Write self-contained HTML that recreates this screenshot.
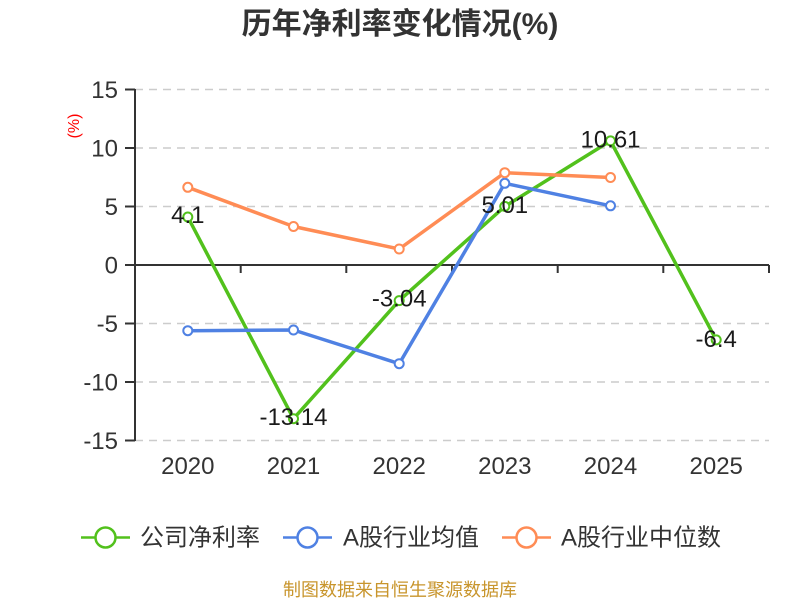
<!DOCTYPE html>
<html>
<head>
<meta charset="utf-8">
<style>
  html, body { margin: 0; padding: 0; background: #ffffff; }
  svg { display: block; }
  text { font-family: "Liberation Sans", "Noto Sans CJK SC", sans-serif; }
</style>
</head>
<body>
<svg width="800" height="600" viewBox="0 0 800 600" xmlns="http://www.w3.org/2000/svg">
  <rect width="800" height="600" fill="#ffffff"/>

  <!-- Title -->
  <text x="400" y="34" text-anchor="middle" font-size="30" font-weight="bold" fill="#333333">历年净利率变化情况(%)</text>

  <!-- Y axis unit -->
  <text transform="translate(79,126) rotate(-90)" text-anchor="middle" font-size="16" fill="#ff0000">(%)</text>

  <!-- Grid lines -->
  <g stroke="#cccccc" stroke-width="1.5" stroke-dasharray="8,6" fill="none">
    <line x1="135" y1="89.5" x2="769" y2="89.5"/>
    <line x1="135" y1="148" x2="769" y2="148"/>
    <line x1="135" y1="206.5" x2="769" y2="206.5"/>
    <line x1="135" y1="323.5" x2="769" y2="323.5"/>
    <line x1="135" y1="382" x2="769" y2="382"/>
    <line x1="135" y1="440.5" x2="769" y2="440.5"/>
  </g>

  <!-- Axes -->
  <g stroke="#333333" stroke-width="2" fill="none">
    <line x1="135" y1="89" x2="135" y2="441"/>
    <line x1="125" y1="89.5" x2="135" y2="89.5"/>
    <line x1="125" y1="148" x2="135" y2="148"/>
    <line x1="125" y1="206.5" x2="135" y2="206.5"/>
    <line x1="125" y1="265" x2="135" y2="265"/>
    <line x1="125" y1="323.5" x2="135" y2="323.5"/>
    <line x1="125" y1="382" x2="135" y2="382"/>
    <line x1="125" y1="440.5" x2="135" y2="440.5"/>
    <line x1="135" y1="265" x2="769" y2="265"/>
    <line x1="240.7" y1="265" x2="240.7" y2="273"/>
    <line x1="346.3" y1="265" x2="346.3" y2="273"/>
    <line x1="452" y1="265" x2="452" y2="273"/>
    <line x1="557.7" y1="265" x2="557.7" y2="273"/>
    <line x1="663.3" y1="265" x2="663.3" y2="273"/>
    <line x1="769" y1="265" x2="769" y2="273"/>
  </g>

  <!-- Y tick labels -->
  <g font-size="24" fill="#333333" text-anchor="end">
    <text x="118" y="98">15</text>
    <text x="118" y="156.5">10</text>
    <text x="118" y="215">5</text>
    <text x="118" y="273.5">0</text>
    <text x="118" y="332">-5</text>
    <text x="118" y="390.5">-10</text>
    <text x="118" y="449">-15</text>
  </g>

  <!-- X tick labels -->
  <g font-size="24" fill="#333333" text-anchor="middle">
    <text x="187.8" y="474">2020</text>
    <text x="293.5" y="474">2021</text>
    <text x="399.2" y="474">2022</text>
    <text x="504.8" y="474">2023</text>
    <text x="610.5" y="474">2024</text>
    <text x="716.2" y="474">2025</text>
  </g>

  <!-- Series: 公司净利率 (green) -->
  <polyline fill="none" stroke="#52c11c" stroke-width="3.5" stroke-linejoin="round"
    points="187.8,217 293.5,418.7 399.2,300.6 504.8,206.4 610.5,140.9 716.2,339.9"/>
  <!-- Series: A股行业均值 (blue) -->
  <polyline fill="none" stroke="#4f81e3" stroke-width="3.5" stroke-linejoin="round"
    points="187.8,330.7 293.5,330 399.2,363.7 504.8,183.3 610.5,205.8"/>
  <!-- Series: A股行业中位数 (orange) -->
  <polyline fill="none" stroke="#ff8c55" stroke-width="3.5" stroke-linejoin="round"
    points="187.8,187.3 293.5,226.5 399.2,249 504.8,172.7 610.5,177.5"/>

  <!-- Markers -->
  <g fill="#ffffff" stroke="#52c11c" stroke-width="2">
    <circle cx="187.8" cy="217" r="4.5"/>
    <circle cx="293.5" cy="418.7" r="4.5"/>
    <circle cx="399.2" cy="300.6" r="4.5"/>
    <circle cx="504.8" cy="206.4" r="4.5"/>
    <circle cx="610.5" cy="140.9" r="4.5"/>
    <circle cx="716.2" cy="339.9" r="4.5"/>
  </g>
  <g fill="#ffffff" stroke="#4f81e3" stroke-width="2">
    <circle cx="187.8" cy="330.7" r="4.5"/>
    <circle cx="293.5" cy="330" r="4.5"/>
    <circle cx="399.2" cy="363.7" r="4.5"/>
    <circle cx="504.8" cy="183.3" r="4.5"/>
    <circle cx="610.5" cy="205.8" r="4.5"/>
  </g>
  <g fill="#ffffff" stroke="#ff8c55" stroke-width="2">
    <circle cx="187.8" cy="187.3" r="4.5"/>
    <circle cx="293.5" cy="226.5" r="4.5"/>
    <circle cx="399.2" cy="249" r="4.5"/>
    <circle cx="504.8" cy="172.7" r="4.5"/>
    <circle cx="610.5" cy="177.5" r="4.5"/>
  </g>

  <!-- Data labels -->
  <g font-size="24" fill="#1a1a1a" text-anchor="middle">
    <text x="187.8" y="223">4.1</text>
    <text x="293.5" y="425">-13.14</text>
    <text x="399.2" y="306.5">-3.04</text>
    <text x="504.8" y="213">5.01</text>
    <text x="610.5" y="147.5">10.61</text>
    <text x="716.2" y="347">-6.4</text>
  </g>

  <!-- Legend -->
  <g stroke-width="2.5" fill="#ffffff">
    <line x1="81" y1="537.5" x2="130" y2="537.5" stroke="#52c11c"/>
    <circle cx="105.5" cy="537.5" r="10" stroke="#52c11c"/>
    <line x1="283" y1="537.5" x2="332" y2="537.5" stroke="#4f81e3"/>
    <circle cx="307.5" cy="537.5" r="10" stroke="#4f81e3"/>
    <line x1="502" y1="537.5" x2="551" y2="537.5" stroke="#ff8c55"/>
    <circle cx="526.5" cy="537.5" r="10" stroke="#ff8c55"/>
  </g>
  <g font-size="24" fill="#333333">
    <text x="140" y="545.5">公司净利率</text>
    <text x="343" y="545.5">A股行业均值</text>
    <text x="561" y="545.5">A股行业中位数</text>
  </g>

  <!-- Footer -->
  <text x="400" y="596" text-anchor="middle" font-size="18" fill="#c8952c">制图数据来自恒生聚源数据库</text>
</svg>
</body>
</html>
